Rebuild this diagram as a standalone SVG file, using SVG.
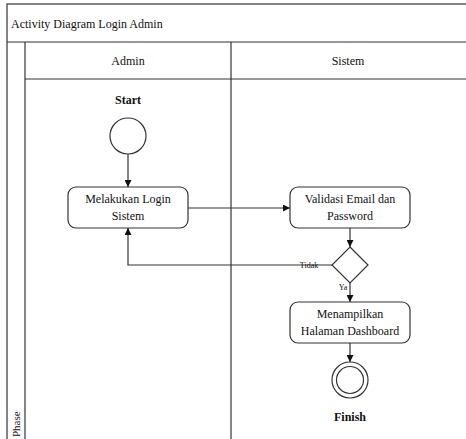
<svg xmlns="http://www.w3.org/2000/svg" width="466" height="439" viewBox="0 0 466 439">
<style>
.ln{fill:none;stroke:#333;stroke-width:1.2}
.nd{fill:#fff;stroke:#333;stroke-width:1.2}
.t{font-family:"Liberation Serif","Times New Roman",serif;font-size:12px;fill:#111;text-anchor:middle}
.b{font-weight:bold}
.s{font-size:8px}
</style>
<defs>
<marker id="ah" viewBox="0 0 10 10" refX="10" refY="5" markerWidth="7" markerHeight="7" orient="auto" markerUnits="userSpaceOnUse"><path d="M0,0 L10,5 L0,10 z" fill="#111"/></marker>
</defs>
<rect width="466" height="439" fill="#fff"/>
<g id="frame">
<rect x="7" y="4" width="460" height="436" class="ln" stroke="#555"/>
<line x1="7" y1="42" x2="466" y2="42" class="ln"/>
<line x1="25" y1="42" x2="25" y2="440" class="ln"/>
<line x1="231" y1="42" x2="231" y2="440" class="ln"/>
<line x1="25" y1="79" x2="466" y2="79" class="ln"/>
<text x="11" y="28" class="t" style="text-anchor:start">Activity Diagram Login Admin</text>
<text x="128" y="65" class="t">Admin</text>
<text x="348" y="65" class="t">Sistem</text>
<text transform="translate(20,437) rotate(-90)" class="t" style="text-anchor:start;font-size:11px">Phase</text>
</g>
<g id="connectors">
<line x1="128" y1="154" x2="128" y2="187" class="ln" marker-end="url(#ah)"/>
<line x1="188" y1="208" x2="290" y2="208" class="ln" marker-end="url(#ah)"/>
<line x1="350" y1="228" x2="350" y2="247" class="ln" marker-end="url(#ah)"/>
<polyline points="333,265 128,265 128,228" class="ln" marker-end="url(#ah)"/>
<line x1="350" y1="283" x2="350" y2="302" class="ln" marker-end="url(#ah)"/>
<line x1="350" y1="343" x2="350" y2="362" class="ln" marker-end="url(#ah)"/>
<text x="309" y="268" class="t s">Tidak</text>
<text x="343" y="290" class="t s">Ya</text>
</g>
<g id="start">
<text x="128" y="104" class="t b">Start</text>
<circle cx="128" cy="136" r="18" class="nd"/>
</g>
<g id="login">
<rect x="68" y="187" width="120" height="41" rx="8" class="nd"/>
<text x="128" y="203" class="t">Melakukan Login</text>
<text x="128" y="220" class="t">Sistem</text>
</g>
<g id="validasi">
<rect x="290" y="187" width="120" height="41" rx="8" class="nd"/>
<text x="350" y="203" class="t">Validasi Email dan</text>
<text x="350" y="220" class="t">Password</text>
</g>
<g id="decision">
<polygon points="350,247 368,265 350,283 332,265" class="nd"/>
</g>
<g id="dashboard">
<rect x="290" y="302" width="120" height="41" rx="8" class="nd"/>
<text x="350" y="318" class="t">Menampilkan</text>
<text x="350" y="335" class="t">Halaman Dashboard</text>
</g>
<g id="finish">
<circle cx="350" cy="380" r="18" class="nd"/>
<circle cx="350" cy="380" r="13.5" class="nd"/>
<text x="350" y="421" class="t b">Finish</text>
</g>
</svg>
